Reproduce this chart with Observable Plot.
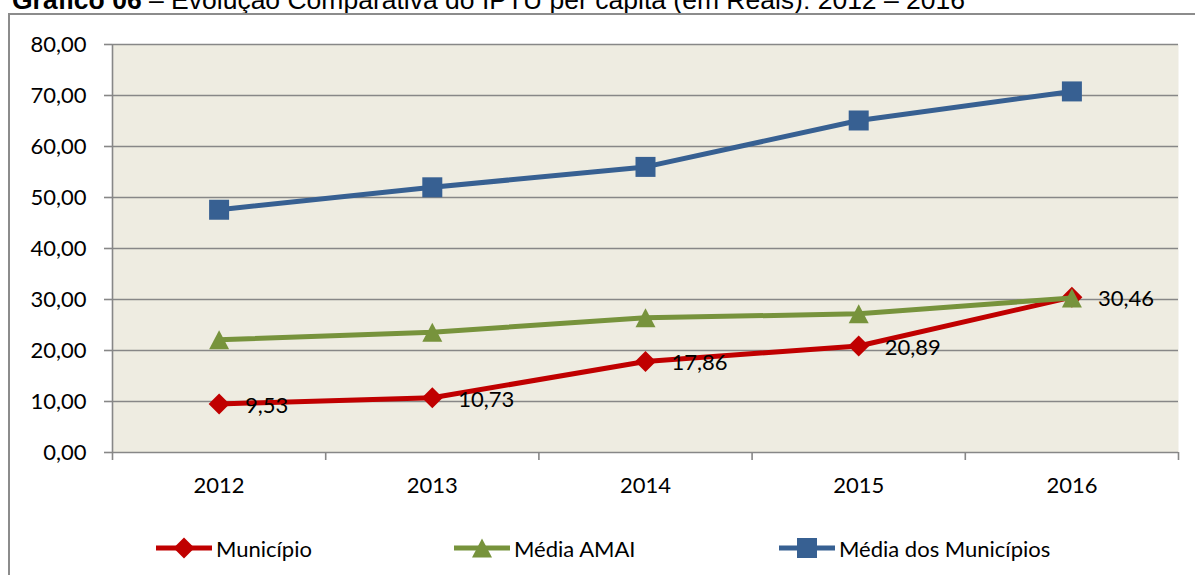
<!DOCTYPE html>
<html>
<head>
<meta charset="utf-8">
<script src="https://cdn.jsdelivr.net/npm/d3@7"></script>
<script src="https://cdn.jsdelivr.net/npm/@observablehq/plot@0.6"></script>
<style>
  html, body { margin: 0; padding: 0; background: #fff; width: 1195px; height: 575px; overflow: hidden; position: relative; }
  #title { position: absolute; left: 12px; top: -13px; font-family: "Liberation Sans", Arial, sans-serif; font-size: 26.5px; line-height: 26.5px; color: #000; white-space: nowrap; }
  #box { position: absolute; left: 8px; top: 13px; width: 1210px; height: 620px; border: 2px solid #8c8c8c; box-sizing: border-box; }
  #chart { position: absolute; left: 0; top: 0; }
  #legend { position: absolute; left: 0; top: 530px; width: 1195px; height: 36px; font-family: Lato, sans-serif; font-size: 22px; color: #000; }
  .item { position: absolute; top: 0; height: 36px; display: flex; align-items: center; white-space: nowrap; }
  .item svg { margin-right: 4px; }
</style>
</head>
<body>
<div id="title"><b>Gráfico 06</b> – Evolução Comparativa do IPTU per capita (em Reais): 2012 – 2016</div>
<div id="box"></div>
<div id="chart"></div>
<div id="legend"></div>
<script>
// ---- data ----
const years = ["2012", "2013", "2014", "2015", "2016"];
const municipio = [9.53, 10.73, 17.86, 20.89, 30.46];
const mediaAmai = [22.1, 23.6, 26.4, 27.2, 30.3];
const mediaMunicipios = [47.6, 52.0, 56.0, 65.1, 70.8];
const seriesNames = ["Município", "Média AMAI", "Média dos Municípios"];
const yTicks = [0, 10, 20, 30, 40, 50, 60, 70, 80];

// ---- styles ----
const colors = ["#C00000", "#77933C", "#376092"];
const fmt = v => v.toFixed(2).replace(".", ",");

const symSquare = {draw(ctx, size) { const r = Math.sqrt(size / Math.PI); ctx.rect(-r, -r, 2 * r, 2 * r); }};
const symDiamond = {draw(ctx, size) { const r = Math.sqrt(size / Math.PI); ctx.moveTo(0, -r); ctx.lineTo(r, 0); ctx.lineTo(0, r); ctx.lineTo(-r, 0); ctx.closePath(); }};
const symTriangle = {draw(ctx, size) { const r = Math.sqrt(size / Math.PI); ctx.moveTo(0, -r * 0.95); ctx.lineTo(r, r * 0.95); ctx.lineTo(-r, r * 0.95); ctx.closePath(); }};
const symbols = [symDiamond, symTriangle, symSquare];
const radii = [10.5, 10, 10];

const seriesValues = [municipio, mediaAmai, mediaMunicipios];
const rows = seriesValues.map((vals, s) => vals.map((v, i) => ({i, year: years[i], value: v, series: seriesNames[s]})));

const boundaries = d3.range(years.length + 1).map(k => k - 0.5);
const gridCol = "#878787";

const marks = [
  Plot.frame({fill: "#EEECE1", stroke: null}),
  Plot.ruleY(yTicks, {stroke: gridCol, strokeWidth: 1.6}),
  Plot.axisY({ticks: yTicks, tickSize: 8, tickPadding: 18, tickFormat: fmt, stroke: gridCol, strokeWidth: 1.6, fill: "#000", fontSize: 22, label: null}),
  Plot.axisX({ticks: boundaries, tickSize: 8, tickFormat: () => "", stroke: gridCol, strokeWidth: 1.6, label: null}),
  Plot.axisX({ticks: d3.range(years.length), tickSize: 0, tickPadding: 25, tickFormat: i => years[i], fill: "#000", fontSize: 22, label: null}),
  Plot.ruleX([-0.5], {y1: 0, y2: 80, stroke: gridCol, strokeWidth: 1.6})
];
rows.forEach((data, s) => {
  marks.push(Plot.line(data, {x: "i", y: "value", stroke: colors[s], strokeWidth: 5, curve: "linear"}));
  marks.push(Plot.dot(data, {x: "i", y: "value", fill: colors[s], stroke: null, r: radii[s], symbol: symbols[s]}));
});
marks.push(Plot.text(rows[0], {x: "i", y: "value", text: d => fmt(d.value), dx: 26, dy: 2, textAnchor: "start", lineAnchor: "middle", fill: "#000", fontSize: 22}));

const chart = Plot.plot({
  width: 1195,
  height: 510,
  marginLeft: 112,
  marginRight: 17,
  marginTop: 44,
  marginBottom: 58,
  x: {type: "linear", domain: [-0.5, years.length - 0.5], axis: null, label: null},
  y: {domain: [0, 80], axis: null, label: null},
  style: {fontFamily: "Lato, sans-serif", fontSize: "22px", color: "#000", background: "transparent", overflow: "visible"},
  marks
});
document.getElementById("chart").appendChild(chart);

// ---- legend ----
const legendLefts = [156, 454, 779];
const legend = document.getElementById("legend");
seriesNames.forEach((name, s) => {
  const item = document.createElement("div");
  item.className = "item";
  item.style.left = legendLefts[s] + "px";
  const svg = d3.create("svg").attr("width", 56).attr("height", 24);
  svg.append("line").attr("x1", 0).attr("x2", 56).attr("y1", 12).attr("y2", 12).attr("stroke", colors[s]).attr("stroke-width", 5);
  const p = d3.path();
  symbols[s].draw(p, radii[s] * radii[s] * Math.PI);
  svg.append("path").attr("d", p.toString()).attr("transform", "translate(28,12)").attr("fill", colors[s]);
  item.appendChild(svg.node());
  const label = document.createElement("span");
  label.textContent = name;
  item.appendChild(label);
  legend.appendChild(item);
});
</script>
</body>
</html>
